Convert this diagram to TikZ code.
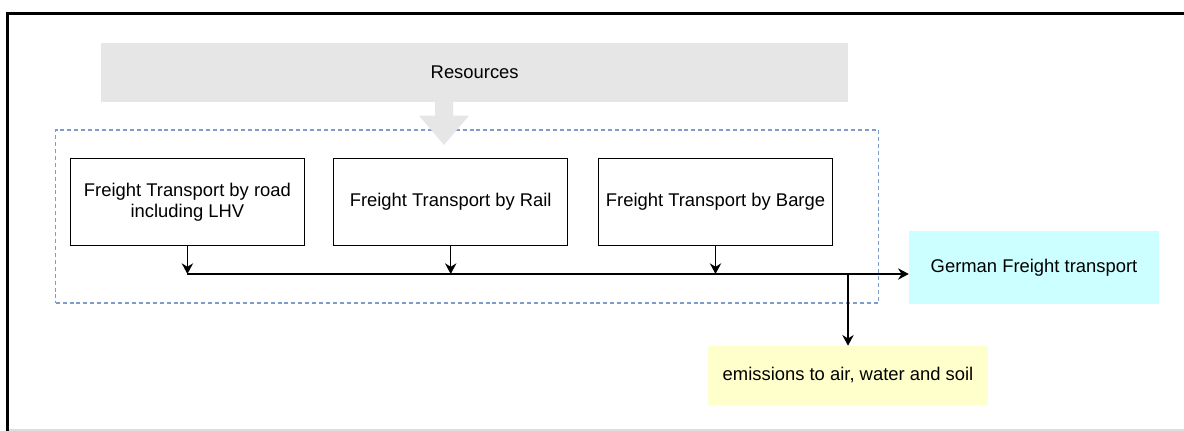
\documentclass[tikz,border=0pt]{standalone}
\usepackage{fontspec}
\setmainfont{Liberation Sans}
\usetikzlibrary{arrows.meta}
\definecolor{resgrey}{HTML}{E6E6E6}
\definecolor{dashblue}{HTML}{7E9BCB}
\definecolor{gercyan}{HTML}{CCFFFF}
\definecolor{emisyellow}{HTML}{FFFFCC}
\definecolor{framegrey}{HTML}{DDDDDD}
\begin{document}
\begin{tikzpicture}[x=0.75pt,y=-0.75pt,
  every node/.style={font=\fontsize{13.8}{15.8}\selectfont, inner sep=0pt},
  procbox/.style={draw=black, line width=1.1pt, fill=white, minimum width=175.5pt, minimum height=65.5pt, align=center},
  flow/.style={draw=black, line width=1.1pt, -{Stealth[length=8pt,width=8.5pt,inset=2.6pt]}},
  bus/.style={draw=black, line width=1.1pt}]
\useasboundingbox (0,0) rectangle (1184,431);
% outer frame
\draw[framegrey, line width=1.2pt] (7.7,430) -- (1184,430);
\draw[black, line width=1.9pt] (7.7,432) -- (7.7,13.3) -- (1190,13.3);
% resources
\node[fill=resgrey, minimum width=560pt, minimum height=44.3pt] (res) at (474.7,72.2) {Resources};
% dashed group
\node[draw=dashblue, line width=0.9pt, dash pattern=on 3pt off 2.2pt, minimum width=617pt, minimum height=129.8pt] (grp) at (467,216.5) {};
% block arrow
\fill[resgrey] (435,101.7) -- (453,101.7) -- (453,115.7) -- (469,115.7) -- (444,145) -- (419,115.7) -- (435,115.7) -- cycle;
% process boxes
\node[procbox] (road) at (187.4,202) {Freight Transport by road\\including LHV};
\node[procbox] (rail) at (450.7,202) {Freight Transport by Rail};
\node[procbox] (barge) at (715.5,202) {Freight Transport by Barge};
% outputs
\node[fill=gercyan, minimum width=187.5pt, minimum height=55pt] (ger) at (1034,267.3) {German Freight transport};
\node[fill=emisyellow, minimum width=210pt, minimum height=44.3pt] (emis) at (848,375.5) {emissions to air, water and soil};
% bus
\coordinate (j1) at (187.4,274);
\coordinate (j2) at (450.7,274);
\coordinate (j3) at (715.5,274);
\coordinate (j4) at (848,274);
\draw[flow] (road.south) -- (j1);
\draw[flow] (rail.south) -- (j2);
\draw[flow] (barge.south) -- (j3);
\draw[flow] (j1) -- (j1 -| ger.west);
\draw[flow] (j4) -- (emis.north);
\end{tikzpicture}
\end{document}
